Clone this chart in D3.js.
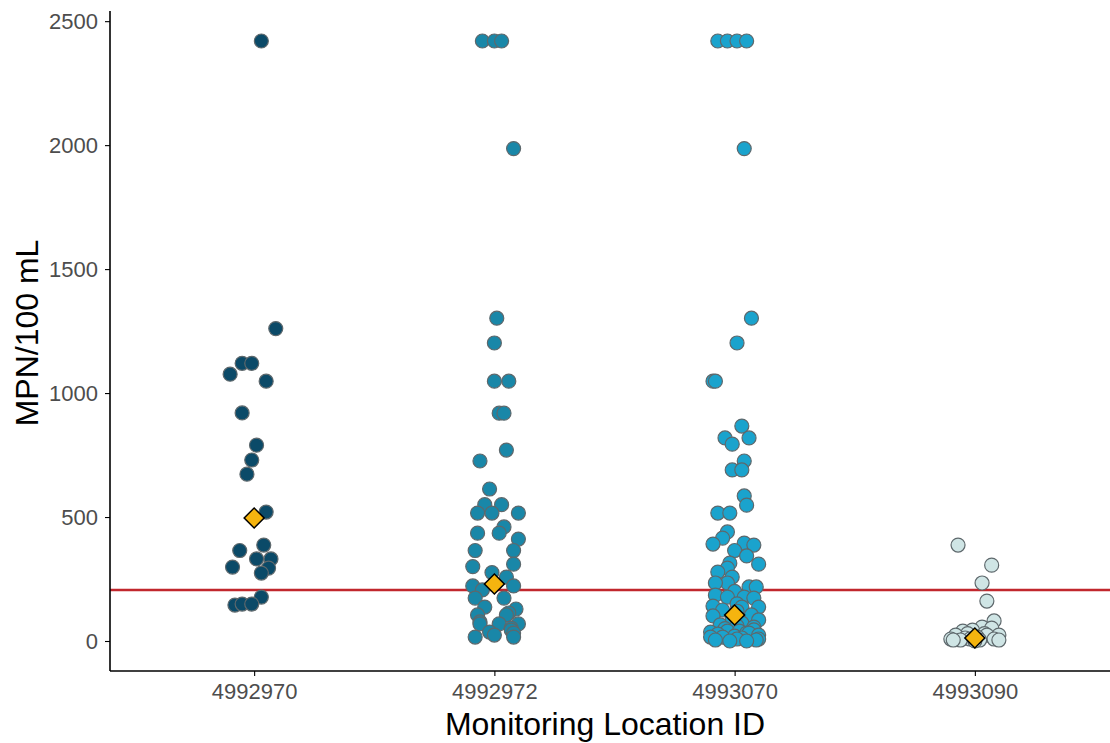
<!DOCTYPE html>
<meta charset="utf-8">
<style>
body { margin: 0; background: #fff; }
svg { display: block; font-family: "Liberation Sans", Arial, sans-serif; }
.axis path, .axis line { stroke: #000; }
.axis text { fill: #4d4d4d; }
.dot { stroke: #5e686c; stroke-width: 1.2; }
.gmean { fill: #f5b40f; stroke: #000; stroke-width: 1.5; }
</style>
<body>
<script src="https://d3js.org/d3.v7.min.js"></script>
<script>
// monitoring locations (x categories)
var sites = ["4992970", "4992972", "4993070", "4993090"];
var siteColors = ["#0b4a68", "#1987a8", "#1aa3cd", "#cfe5e5"];

// E. coli results, MPN/100 mL, with jitter (in category widths)
var v4992970 = [2420,1260,1120,1120,1076,1048,920,790,730,673,520,387,365,331,331,298,294,274,177,145,149,149];
var j4992970 = [.03,.09,-.05,-.01,-.10,.05,-.05,.01,-.01,-.03,.05,.04,-.06,.01,.07,-.09,.06,.03,.03,-.08,-.05,-.01];

var v4992972 = [2420,2420,2420,1986,1302,1202,1048,1048,919,919,770,726,613,550,550,516,516,516,460,435,435,411,365,365,
                300,310,276,258,222,222,206,173,173,137,129,113,105,105,77,69,69,69,52,44,36,32,24,16,16];
var j4992972 = [-.05,0,.03,.08,.01,0,0,.06,.02,.04,.05,-.06,-.02,-.04,.03,-.07,-.01,.10,.04,-.07,.02,.10,-.08,.08,
                -.09,.08,-.01,.05,-.09,.08,-.05,.04,-.08,-.04,.09,.06,-.07,.05,-.06,-.06,.02,.10,.07,.07,-.02,.08,0,.08,-.08];

var v4993070 = [2420,2420,2420,2420,1986,1302,1202,1048,1048,867,819,819,794,726,690,690,585,548,516,516,440,415,391,395,387,
                365,343,310,314,294,278,258,234,234,218,218,200,185,177,177,173,150,141,137,137,125,120,105,101,90,85,73,65,60,
                56,50,45,40,40,36,32,32,28,24,20,16,16,12,8,8,4,4,0,0];
var j4993070 = [-.07,-.03,.01,.05,.04,.07,.01,-.09,-.08,.03,-.04,.06,-.01,.04,-.01,.03,.04,.05,-.07,-.02,-.03,-.05,-.09,.04,.08,
                0,.05,.10,-.02,-.03,-.07,-.01,-.03,-.08,.06,.09,0,-.08,-.03,.04,.08,.01,-.09,.10,.03,-.05,.01,.07,-.09,-.01,.10,.03,-.06,.01,
                .08,-.04,.08,-.03,.02,-.10,.05,.06,-.07,.10,0,-.05,-.10,.03,.01,.10,-.08,.09,-.02,.05];

var v4993090 = [387,306,234,161,81,56,52,44,40,30,30,24,24,24,16,12,8,8,8,4,4,4,4,0];
var j4993090 = [-.07,.07,.03,.05,.08,.03,.07,-.01,-.05,-.03,.04,-.08,.10,.05,.01,-.04,-.02,.08,-.10,-.06,.10,-.09,.02,0];

// geometric means (diamonds)
var geoMeans = [496, 230, 105, 12];
// single sample criterion (red line)
var criterion = 206;

var yTicks = [0, 500, 1000, 1500, 2000, 2500];

var allValues = [v4992970, v4992972, v4993070, v4993090];
var allJitter = [j4992970, j4992972, j4993070, j4993090];

var width = 1110, height = 743;
var margin = {top: 11, right: -9, bottom: 72, left: 110};

var svg = d3.select("body").append("svg")
    .attr("width", width)
    .attr("height", height);

// category index 1..4, ggplot style expansion of 0.6
var x = d3.scaleLinear()
    .domain([0.4, sites.length + 0.6])
    .range([margin.left, width - margin.right]);

var y = d3.scaleLinear()
    .domain([-121, 2541])
    .range([height - margin.bottom, margin.top]);

// flatten points
var points = [];
allValues.forEach(function(vals, g) {
  vals.forEach(function(v, i) {
    points.push({g: g, v: v, j: allJitter[g][i]});
  });
});

// criterion line
svg.append("line")
    .attr("x1", margin.left).attr("x2", width)
    .attr("y1", y(criterion)).attr("y2", y(criterion))
    .attr("stroke", "#c1272d")
    .attr("stroke-width", 2.4);

svg.selectAll(".dot")
    .data(points)
  .enter().append("circle")
    .attr("class", "dot")
    .attr("cx", function(d) { return x(d.g + 1 + d.j); })
    .attr("cy", function(d) { return y(d.v); })
    .attr("r", 7)
    .attr("fill", function(d) { return siteColors[d.g]; });

svg.selectAll(".gmean")
    .data(geoMeans)
  .enter().append("path")
    .attr("class", "gmean")
    .attr("d", d3.symbol(d3.symbolSquare, 200))
    .attr("transform", function(d, i) {
      return "translate(" + x(i + 1) + "," + y(d) + ") rotate(45)";
    });

// axes
var yAxis = svg.append("g")
    .attr("class", "axis")
    .attr("transform", "translate(" + margin.left + ",0)")
    .call(d3.axisLeft(y).tickValues(yTicks).tickFormat(d3.format("d")).tickSize(5).tickPadding(7));

var xAxis = svg.append("g")
    .attr("class", "axis")
    .attr("transform", "translate(0," + (height - margin.bottom) + ")")
    .call(d3.axisBottom(x).tickValues([1, 2, 3, 4])
      .tickFormat(function(d) { return sites[d - 1]; })
      .tickSize(5).tickPadding(7));

[yAxis, xAxis].forEach(function(a) {
  a.select(".domain").attr("stroke-width", 1.6);
  a.selectAll(".tick line").attr("stroke", "#333").attr("stroke-width", 1.1);
  a.selectAll(".tick text").style("font-size", "22px");
});
yAxis.select(".domain").attr("d", "M0," + margin.top + "V" + (height - margin.bottom));
xAxis.select(".domain").attr("d", "M" + margin.left + ",0H" + width);

// axis titles
svg.append("text")
    .attr("x", 605).attr("y", 735)
    .attr("text-anchor", "middle")
    .style("font-size", "32px")
    .text("Monitoring Location ID");

svg.append("text")
    .attr("transform", "translate(38,333) rotate(-90)")
    .attr("text-anchor", "middle")
    .style("font-size", "32px")
    .text("MPN/100 mL");
</script>
</body>
